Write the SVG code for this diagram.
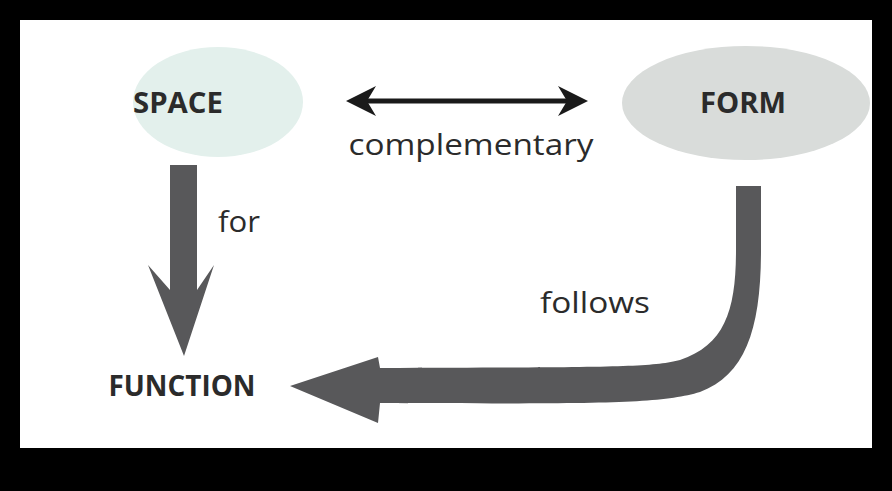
<svg xmlns="http://www.w3.org/2000/svg" width="892" height="491" viewBox="0 0 892 491">
<style>
.t{font-family:"Open Sans","DejaVu Sans",sans-serif;fill:#2b2b2b}
.b{font-weight:bold;font-size:28px}
.r{font-size:30px}
.fat{fill:#58585a}
</style>
<defs>
<marker id="ah" viewBox="0 0 10 10" refX="8" refY="5" markerWidth="6" markerHeight="6" orient="auto-start-reverse">
<path d="M0,0 L10,5 L0,10 L3,5 Z" fill="#1a1a1a"/>
</marker>
</defs>
<rect width="892" height="491" fill="#000"/>
<rect x="20" y="20" width="852" height="428" fill="#fff"/>
<g id="space"><ellipse cx="218" cy="102" rx="85" ry="55" fill="#e3f0ec"/><text class="t b" x="178" y="113" text-anchor="middle" textLength="90" lengthAdjust="spacingAndGlyphs">SPACE</text></g>
<g id="form"><ellipse cx="746" cy="103" rx="124" ry="57" fill="#d9dcda"/><text class="t b" x="743" y="113" text-anchor="middle" textLength="86" lengthAdjust="spacingAndGlyphs">FORM</text></g>
<g id="function"><text class="t b" x="182" y="396" text-anchor="middle" textLength="147" lengthAdjust="spacingAndGlyphs">FUNCTION</text></g>
<g id="connectors">
<line x1="352" y1="101" x2="582" y2="101" stroke="#1a1a1a" stroke-width="5" marker-start="url(#ah)" marker-end="url(#ah)"/>
<path class="fat" d="M170,165 H197 V290 L214,265 L184,356 L148,265 L170,290 Z"/>
<path class="fat" d="M736,186 H761 V250 C761,330 745,375 700,392 C660,404 600,404 380,403 L378,423 L290,386 L378,357 L380,368 C600,367 650,368 680,360 C725,345 736,310 736,250 Z"/>
<text class="t r" x="471" y="155" text-anchor="middle" textLength="245" lengthAdjust="spacingAndGlyphs">complementary</text>
<text class="t r" x="218" y="232" textLength="42" lengthAdjust="spacingAndGlyphs">for</text>
<text class="t r" x="540" y="313" textLength="110" lengthAdjust="spacingAndGlyphs">follows</text>
</g>
</svg>
